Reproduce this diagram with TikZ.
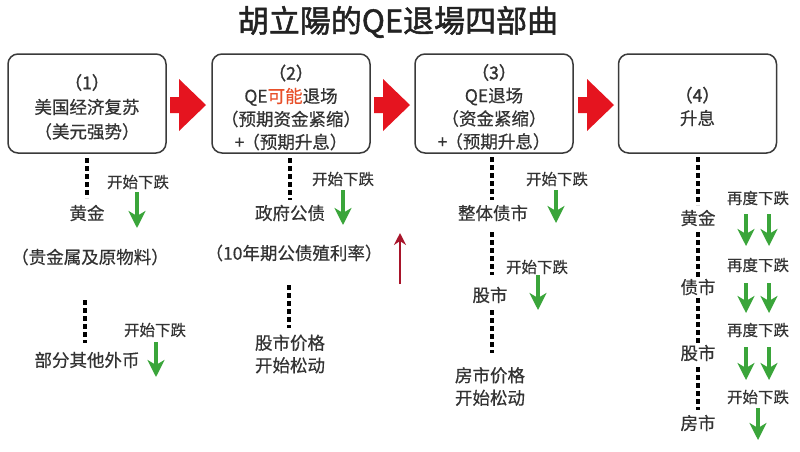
\documentclass[tikz,border=0pt]{standalone}
\usepackage{fontspec}
\setmainfont{Noto Sans CJK SC}
\newfontfamily\cjkb[FakeBold=1.6]{Noto Sans CJK SC}
\newfontfamily\cjkm[FakeBold=0.5]{Noto Sans CJK SC}
\usetikzlibrary{arrows.meta}
\definecolor{arrred}{HTML}{E5141F}
\definecolor{boxgray}{HTML}{3A3A3A}
\definecolor{txtgray}{HTML}{333333}
\definecolor{titlecol}{HTML}{222222}
\definecolor{orng}{HTML}{E8502A}
\definecolor{arrgreen}{HTML}{3AA53A}
\definecolor{upred}{HTML}{A8142A}
\begin{document}
\begin{tikzpicture}[x=1pt,y=-1pt,
  box/.style={draw=boxgray, line width=1.5pt, rounded corners=10pt, minimum width=158pt, minimum height=99pt, inner sep=0pt},
  boxtxt/.style={font=\cjkm\fontsize{17.5}{23}\selectfont, text=txtgray, inner sep=0pt, align=center},
  txt/.style={font=\cjkm\fontsize{17.5}{22.5}\selectfont, text=txtgray, inner sep=0pt, align=center},
  small/.style={font=\cjkm\fontsize{15.5}{18}\selectfont, text=txtgray, inner sep=0pt},
  dline/.style={line width=4pt, dash pattern=on 5pt off 3pt, black},
  garrow/.style={draw=arrgreen, line width=4.5pt, -{Stealth[length=17pt,width=17pt,inset=5pt]}},
  pics/dn/.style={code={\draw[garrow] (0,0) -- (0,#1);}},
  pics/dsh/.style={code={\draw[dline] (0,0) -- (0,#1);}},
  pics/blockarrow/.style={code={\fill[arrred] (0,-8) -- (9,-8) -- (9,-26) -- (36,0) -- (9,26) -- (9,8) -- (0,8) -- cycle;}}
]
\useasboundingbox (0,0) rectangle (800,451);
\fill[white] (0,0) rectangle (800,451);

% title
\node[font=\cjkb\fontsize{31}{31}\selectfont, text=titlecol, inner sep=0pt] (title) at (398,22) {胡立陽的QE退場四部曲};

% boxes
\node[box] (b1) at (87,103.5) {};
\node[box] (b2) at (291,103.5) {};
\node[box] (b3) at (494,103.5) {};
\node[box] (b4) at (697.5,103.5) {};

\node[boxtxt, font=\cjkm\fontsize{17.5}{24.5}\selectfont] (t1) at (87,107) {{\cjkb（1）}\\美国经济复苏\\（美元强势）};
\node[boxtxt] (t2) at (291,107.5) {{\cjkb（2）}\\QE{\color{orng}可能}退场\\（预期资金紧缩）\\+\kern-2pt（预期升息）};
\node[boxtxt] (t3) at (494,107) {{\cjkb（3）}\\QE退场\\（资金紧缩）\\+\kern-2pt（预期升息）};
\node[boxtxt] (t4) at (697.5,106.5) {{\cjkb（4）}\\升息};

% red block arrows
\pic at (170,105) {blockarrow};
\pic at (374,105) {blockarrow};
\pic at (578,105) {blockarrow};

% column 1
\pic at (87,158) {dsh=40};
\node[small] (c1s1) at (138,182) {开始下跌};
\node[txt] (c1gold) at (87,213) {黄金};
\pic at (137,192) {dn=36};
\node[txt] (c1note) at (90,257) {（贵金属及原物料）};
\pic at (85,300) {dsh=43};
\node[small] (c1s2) at (155,330) {开始下跌};
\node[txt] (c1fx) at (87,360) {部分其他外币};
\pic at (156,342) {dn=35};

% column 2
\pic at (290,158) {dsh=42};
\node[small] (c2s1) at (343,179) {开始下跌};
\node[txt] (c2bond) at (290,213) {政府公债};
\pic at (343,190) {dn=35};
\node[txt] (c2note) at (294,253) {（10年期公债殖利率）};
\draw[upred, line width=2.2pt, -{Stealth[length=12pt,width=12pt,inset=4pt]}] (400,284) -- (400,233);
\pic at (289,285) {dsh=43};
\node[txt] (c2stock) at (290,354) {股市价格\\开始松动};

% column 3
\pic at (492,157) {dsh=43};
\node[small] (c3s1) at (557,179) {开始下跌};
\node[txt] (c3bond) at (493,213) {整体债市};
\pic at (556,190) {dn=33};
\pic at (492,232) {dsh=43};
\node[small] (c3s2) at (537,267) {开始下跌};
\node[txt] (c3stock) at (490,295) {股市};
\pic at (538,275) {dn=35};
\pic at (492,310) {dsh=43};
\node[txt] (c3house) at (490,386.5) {房市价格\\开始松动};

% column 4
\pic at (698,157) {dsh=48};
\node[small] (c4s1) at (758,198) {再度下跌};
\node[txt] (c4gold) at (698,218) {黄金};
\pic at (746,214) {dn=32};
\pic at (769,214) {dn=32};
\pic at (698,232) {dsh=45};
\node[small] (c4s2) at (758,265) {再度下跌};
\node[txt] (c4bond) at (698,287) {债市};
\pic at (746,283) {dn=30};
\pic at (769,283) {dn=30};
\pic at (698,298) {dsh=45};
\node[small] (c4s3) at (758,330) {再度下跌};
\node[txt] (c4stock) at (698,353) {股市};
\pic at (746,347) {dn=33};
\pic at (769,347) {dn=33};
\pic at (698,367) {dsh=43};
\node[small] (c4s4) at (758,397) {开始下跌};
\node[txt] (c4house) at (698,423) {房市};
\pic at (758,408) {dn=32};
\end{tikzpicture}
\end{document}
